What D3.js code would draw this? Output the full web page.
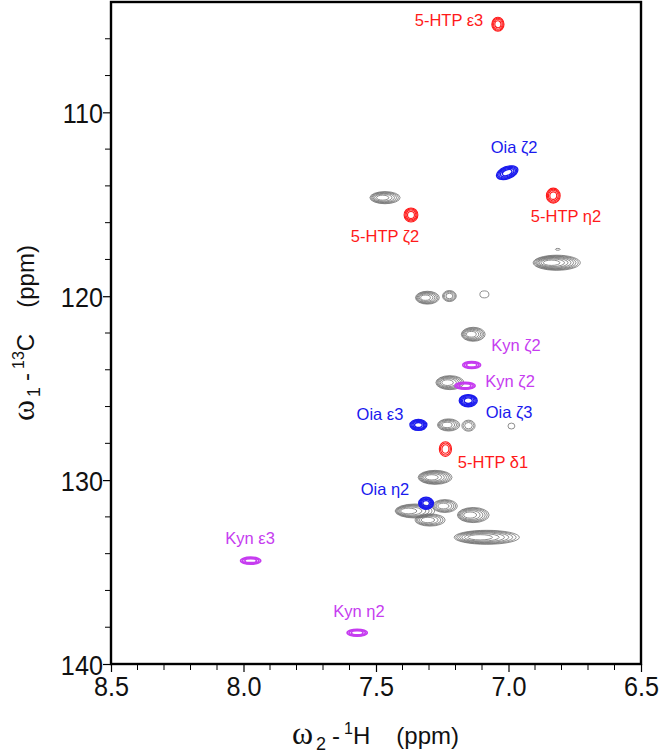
<!DOCTYPE html>
<html><head><meta charset="utf-8">
<script src="https://cdn.jsdelivr.net/npm/d3@7"></script>
<style>html,body{margin:0;padding:0;background:#fff}svg{display:block}</style>
</head><body>
<svg id="chart" width="662" height="756"></svg>
<script>
// ---- data ----
const xTicks = [8.5, 8.0, 7.5, 7.0, 6.5];
const yTicks = [110, 120, 130, 140];
// peak centres (1H ppm, 13C ppm), half widths (ppm), contour levels, group, tilt, skew
const peakH  = [7.040, 7.005, 6.831, 7.368, 7.466, 6.818, 7.306, 7.223, 7.091, 7.133, 7.139, 7.221, 7.164, 7.152, 7.340, 7.226, 7.151, 6.989, 7.238, 7.277, 7.311, 7.353, 7.240, 7.296, 7.133, 7.082, 6.814, 7.973, 7.571];
const peakC  = [105.21, 113.28, 114.53, 115.58, 114.64, 118.18, 120.08, 119.99, 119.90, 122.07, 123.74, 124.70, 124.87, 125.68, 127.00, 127.00, 127.04, 127.06, 128.31, 129.85, 131.26, 131.68, 131.41, 132.17, 131.90, 133.11, 117.45, 134.38, 138.30];
const peakWH = [0.023, 0.042, 0.026, 0.026, 0.057, 0.089, 0.045, 0.026, 0.017, 0.045, 0.034, 0.053, 0.038, 0.034, 0.032, 0.042, 0.025, 0.013, 0.023, 0.064, 0.028, 0.075, 0.047, 0.057, 0.060, 0.123, 0.009, 0.038, 0.038];
const peakWC = [0.38, 0.33, 0.41, 0.38, 0.33, 0.41, 0.35, 0.30, 0.19, 0.38, 0.19, 0.38, 0.19, 0.33, 0.30, 0.33, 0.30, 0.16, 0.40, 0.38, 0.33, 0.38, 0.35, 0.33, 0.41, 0.38, 0.05, 0.19, 0.19];
const peakLevels = [4, 5, 4, 4, 6, 8, 6, 4, 1, 6, 3, 6, 3, 5, 5, 5, 3, 1, 3, 7, 5, 6, 5, 5, 6, 7, 1, 3, 3];
const peakGroup = ["5-HTP","Oia","5-HTP","5-HTP","other","other","other","other","other","other","Kyn","other","Kyn","Oia","Oia","other","other","other","5-HTP","other","Oia","other","other","other","other","other","other","Kyn","Kyn"];
const peakTilt = [0, -20, 0, 0, 0, 0, 0, 0, 0, 0, 0, 0, 0, 0, 0, 0, 0, 0, 0, 0, 0, 0, 0, 0, 0, 0, 0, 0, 0];
const peakSkew = [0, 0, 0, 0, 0.015, 0.03, 0.012, 0, 0, 0.012, 0, 0.015, 0, 0, 0, 0.01, 0, 0, 0, 0.02, 0, 0.04, 0.01, 0.015, 0.02, 0.04, 0, 0, 0];
// labels (text, 1H ppm / 13C ppm of baseline centre, group)
const labelText = ["5-HTP ε3", "Oia ζ2", "5-HTP η2", "5-HTP ζ2", "Kyn ζ2", "Kyn ζ2", "Oia ζ3", "Oia ε3", "5-HTP δ1", "Oia η2", "Kyn ε3", "Kyn η2"];
const labelH = [7.2245, 6.979, 6.783, 7.466, 6.972, 6.994, 6.998, 7.485, 7.0585, 7.466, 7.975, 7.564];
const labelC = [105.30, 112.21, 115.96, 117.05, 122.98, 124.94, 126.62, 126.73, 129.34, 130.81, 133.47, 137.44];
const labelGroup = ["5-HTP","Oia","5-HTP","5-HTP","Kyn","Kyn","Oia","Oia","5-HTP","Oia","Kyn","Kyn"];

const groupColor = {"5-HTP": "#ff1a1a", "Oia": "#1a1aee", "Kyn": "#c63cf0", "other": "#6a6a6a"};

// ---- layout ----
const svg = d3.select("#chart");
const x = d3.scaleLinear().domain([8.5, 6.5]).range([111, 641]);
const y = d3.scaleLinear().domain([104, 140]).range([2, 664]);

const tickFont = "'Liberation Sans', Arial, sans-serif";

// x axis
const xAxis = d3.axisBottom(x).tickValues(xTicks).tickFormat(d3.format(".1f")).tickSize(8).tickPadding(4);
const gx = svg.append("g").attr("transform", `translate(0,${y(140)})`).call(xAxis);
const xMinor = d3.range(65, 86).map(d => d / 10).filter(d => !xTicks.some(t => Math.abs(t - d) < 1e-6));
svg.append("g").selectAll("line").data(xMinor).join("line")
  .attr("x1", d => x(d)).attr("x2", d => x(d)).attr("y1", y(140)).attr("y2", y(140) + 6)
  .attr("stroke", "#000").attr("stroke-width", 1);

// y axis
const yAxis = d3.axisLeft(y).tickValues(yTicks).tickFormat(d3.format("d")).tickSize(8).tickPadding(1);
const gy = svg.append("g").attr("transform", `translate(${x(8.5)},0)`).call(yAxis);
const yMinor = d3.range(106, 140, 2).filter(d => !yTicks.includes(d));
svg.append("g").selectAll("line").data(yMinor).join("line")
  .attr("x1", x(8.5) - 6).attr("x2", x(8.5)).attr("y1", d => y(d)).attr("y2", d => y(d))
  .attr("stroke", "#000").attr("stroke-width", 1);

[gx, gy].forEach(g => {
  g.select(".domain").remove();
  g.selectAll(".tick line").attr("stroke", "#000").attr("stroke-width", 1.2);
  g.selectAll(".tick text").attr("font-family", tickFont).attr("font-size", 28).attr("fill", "#111")
    .attr("transform", "scale(0.9,1)");
});
gx.selectAll(".tick text").attr("dy", "0.71em");
gy.selectAll(".tick text").attr("dy", "0.36em");

// frame
svg.append("rect").attr("x", x(8.5)).attr("y", y(104)).attr("width", x(6.5) - x(8.5)).attr("height", y(140) - y(104))
  .attr("fill", "none").attr("stroke", "#000").attr("stroke-width", 2.4);

// ---- contours ----
const peaks = peakH.map((h, i) => ({h, c: peakC[i], wh: peakWH[i], wc: peakWC[i], n: peakLevels[i], g: peakGroup[i], tilt: peakTilt[i], skew: peakSkew[i]}));
const rings = [];
peaks.forEach(p => {
  for (let k = 0; k < p.n; k++) {
    const s = p.n === 1 ? 1 : Math.sqrt(1 - k / p.n);
    rings.push({p, s, off: p.skew * (1 - s)});
  }
});
const order = {"other": 0, "Kyn": 1, "Oia": 2, "5-HTP": 3};
rings.sort((a, b) => order[a.p.g] - order[b.p.g]);
const strokeW = {"other": 0.75, "Kyn": 1.6, "Oia": 1.3, "5-HTP": 1.1};
svg.append("g").selectAll("ellipse").data(rings).join("ellipse")
  .attr("transform", d => `translate(${x(d.p.h + d.off)},${y(d.p.c)}) rotate(${d.p.tilt})`)
  .attr("rx", d => Math.abs(x(d.p.h + d.p.wh) - x(d.p.h)) * d.s)
  .attr("ry", d => Math.abs(y(d.p.c + d.p.wc) - y(d.p.c)) * d.s)
  .attr("fill", "none")
  .attr("stroke", d => groupColor[d.p.g])
  .attr("stroke-width", d => strokeW[d.p.g]);

// ---- labels ----
svg.append("g").selectAll("text").data(labelText).join("text")
  .attr("x", (d, i) => x(labelH[i])).attr("y", (d, i) => y(labelC[i]))
  .attr("text-anchor", "middle")
  .attr("font-family", "'Liberation Sans', Arial, sans-serif").attr("font-size", 16.5)
  .attr("fill", (d, i) => groupColor[labelGroup[i]])
  .text(d => d);

// ---- axis titles ----
function title(sel, sub, sup, unit) {
  sel.append("tspan").attr("font-family", "'Liberation Serif', serif").attr("font-size", 32).text("ω");
  sel.append("tspan").attr("font-size", 18).attr("dx", 3).attr("dy", 6).text(sub);
  sel.append("tspan").attr("dx", 6).attr("dy", -6).text("-");
  sel.append("tspan").attr("font-size", 16).attr("dx", 4).attr("dy", -10).text(sup);
  sel.append("tspan").attr("dy", 10).text(unit);
  sel.append("tspan").attr("dx", 26).text("(ppm)");
}
const xt = svg.append("text").attr("x", 292).attr("y", 744).attr("text-anchor", "start")
  .attr("font-family", "'Liberation Sans', Arial, sans-serif").attr("font-size", 24).attr("fill", "#111");
title(xt, "2", "1", "H");

const yt = svg.append("text").attr("transform", "translate(34,421) rotate(-90)").attr("text-anchor", "start")
  .attr("font-family", "'Liberation Sans', Arial, sans-serif").attr("font-size", 24).attr("fill", "#111");
title(yt, "1", "13", "C");
</script>
</body></html>
